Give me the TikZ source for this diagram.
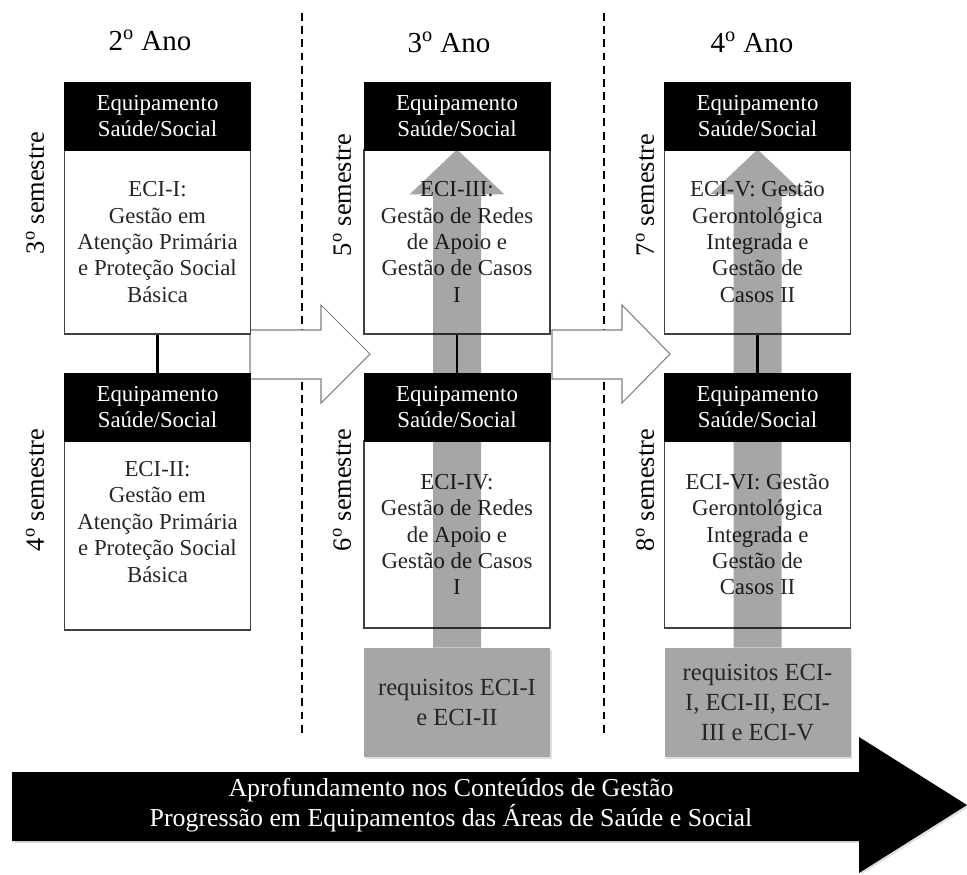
\documentclass[tikz,border=0pt]{standalone}
\usepackage{fontspec}
\setmainfont{Liberation Serif}
\usetikzlibrary{calc,shadows}

\begin{document}
\begin{tikzpicture}[
  cabec/.style={fill=black,draw=black,text=white,minimum width=3.72cm,minimum height=1.36cm,inner sep=0pt,align=center,font=\fontsize{13}{14.7}\selectfont},
  corpo/.style={fill=white,draw=black!75,line width=.6pt,minimum width=3.72cm,minimum height=3.68cm,inner sep=0pt,align=center,text=black!85,font=\fontsize{13}{15}\selectfont},
  requisito/.style={fill=black!35,minimum width=3.72cm,minimum height=2.18cm,inner sep=0pt,align=center,text=black!85,font=\fontsize{14}{17}\selectfont,drop shadow={opacity=.25,shadow xshift=.03cm,shadow yshift=-.04cm}},
  ano/.style={font=\fontsize{16.5}{18}\selectfont},
  semestre/.style={rotate=90,font=\fontsize{15}{17}\selectfont},
  divisoria/.style={line width=1.6pt,dash pattern=on 4.5pt off 3pt},
  passo/.style={fill=white,draw=black!50,line width=.6pt},
  trilha/.style={fill=black!35,blend mode=multiply},
]
\useasboundingbox (0,0) rectangle (19.34,17.48);
% divisorias entre os anos
\draw[divisoria] (6.04,17.22) -- (6.04,2.78);
\draw[divisoria] (12.08,17.22) -- (12.08,2.78);
% setas de passagem de ano
\draw[passo] (5.00,10.88) -- (6.42,10.88) -- (6.42,11.38) -- (7.40,10.40) -- (6.42,9.42) -- (6.42,9.90) -- (5.00,9.90) -- cycle;
\draw[passo] (11.04,10.88) -- (12.44,10.88) -- (12.44,11.38) -- (13.40,10.40) -- (12.44,9.42) -- (12.44,9.90) -- (11.04,9.90) -- cycle;
\node[ano] (ano2) at (3.00,16.68) {2\textsuperscript{o} Ano};
\node[ano] (ano3) at (8.98,16.64) {3\textsuperscript{o} Ano};
\node[ano] (ano4) at (15.04,16.64) {4\textsuperscript{o} Ano};
\node[semestre] (s3) at (0.70,13.62) {3\textsuperscript{o} semestre};
\node[semestre] (s4) at (0.70,7.68) {4\textsuperscript{o} semestre};
\node[semestre] (s5) at (6.84,13.58) {5\textsuperscript{o} semestre};
\node[semestre] (s6) at (6.84,7.68) {6\textsuperscript{o} semestre};
\node[semestre] (s7) at (12.90,13.58) {7\textsuperscript{o} semestre};
\node[semestre] (s8) at (12.90,7.68) {8\textsuperscript{o} semestre};
% disciplinas
\node[corpo] (b3) at (3.15,12.64) {ECI-I:\\Gestão em\\Atenção Primária\\e Proteção Social\\Básica};
\node[corpo,minimum height=3.78cm,text depth=.55cm] (b4) at (3.15,6.77) {ECI-II:\\Gestão em\\Atenção Primária\\e Proteção Social\\Básica};
\node[corpo] (b5) at (9.14,12.64) {ECI-III:\\Gestão de Redes\\de Apoio e\\Gestão de Casos\\I};
\node[corpo,minimum height=3.74cm] (b6) at (9.14,6.79) {ECI-IV:\\Gestão de Redes\\de Apoio e\\Gestão de Casos\\I};
\node[requisito] (r6) at (9.14,3.43) {requisitos ECI-I\\e ECI-II};
\node[corpo] (b7) at (15.15,12.64) {ECI-V: Gestão\\Gerontológica\\Integrada e\\Gestão de\\Casos II};
\node[corpo,minimum height=3.74cm] (b8) at (15.15,6.79) {ECI-VI: Gestão\\Gerontológica\\Integrada e\\Gestão de\\Casos II};
\node[requisito] (r8) at (15.15,3.43) {requisitos ECI-\\I, ECI-II, ECI-\\III e ECI-V};
% setas de pre-requisitos
\fill[trilha] ($(r6.north)+(-.48,0)$) -- ($(b5.north)+(-.48,-.9)$) -- ($(b5.north)+(-.95,-.9)$) -- (b5.north) -- ($(b5.north)+(.95,-.9)$) -- ($(b5.north)+(.48,-.9)$) -- ($(r6.north)+(.48,0)$) -- cycle;
\fill[trilha] ($(r8.north)+(-.48,0)$) -- ($(b7.north)+(-.48,-.9)$) -- ($(b7.north)+(-.95,-.9)$) -- (b7.north) -- ($(b7.north)+(.95,-.9)$) -- ($(b7.north)+(.48,-.9)$) -- ($(r8.north)+(.48,0)$) -- cycle;
% equipamentos
\node[cabec] (h3) at (3.15,15.16) {Equipamento\\Saúde/Social};
\node[cabec] (h4) at (3.15,9.34) {Equipamento\\Saúde/Social};
\node[cabec] (h5) at (9.14,15.16) {Equipamento\\Saúde/Social};
\node[cabec] (h6) at (9.14,9.34) {Equipamento\\Saúde/Social};
\node[cabec] (h7) at (15.15,15.16) {Equipamento\\Saúde/Social};
\node[cabec] (h8) at (15.15,9.34) {Equipamento\\Saúde/Social};
% ligacoes entre semestres
\draw[line width=1.2pt] (b3.south) -- (h4.north);
\draw[line width=1.2pt] (b5.south) -- (h6.north);
\draw[line width=1.2pt] (b7.south) -- (h8.north);
% faixa inferior
\fill[black,drop shadow={opacity=.25,shadow xshift=.03cm,shadow yshift=-.04cm}] (0.24,2.04) -- (17.18,2.04) -- (17.18,2.74) -- (19.34,1.38) -- (17.18,0.02) -- (17.18,0.66) -- (0.24,0.66) -- cycle;
\node[text=white,align=center,font=\fontsize{14.7}{17}\selectfont] (faixa) at (9.02,1.38) {Aprofundamento nos Conteúdos de Gestão\\Progressão em Equipamentos das Áreas de Saúde e Social};
\end{tikzpicture}
\end{document}
